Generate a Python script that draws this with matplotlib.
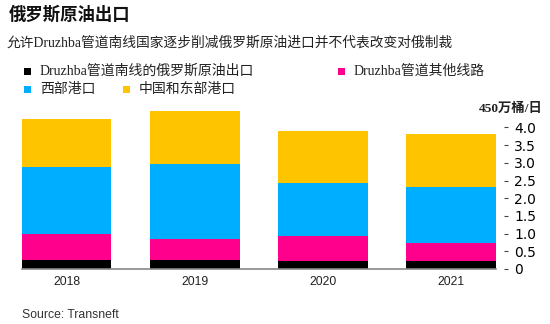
import numpy as np
import matplotlib.pyplot as plt
from matplotlib.patches import Rectangle

# 数据 (单位: 百万桶/日)
years = ["2018", "2019", "2020", "2021"]
druzhba_south = [0.25, 0.25, 0.23, 0.23]
druzhba_other = [0.74, 0.60, 0.69, 0.50]
west_ports = [1.88, 2.11, 1.50, 1.58]
china_east = [1.38, 1.49, 1.49, 1.51]
yticks = [0, 0.5, 1.0, 1.5, 2.0, 2.5, 3.0, 3.5, 4.0]
ytick_labels = ["0", "0.5", "1.0", "1.5", "2.0", "2.5", "3.0", "3.5", "4.0"]

series = [
    ("Druzhba管道南线的俄罗斯原油出口", druzhba_south, "#000000"),
    ("Druzhba管道其他线路", druzhba_other, "#ff008c"),
    ("西部港口", west_ports, "#00aeff"),
    ("中国和东部港口", china_east, "#ffc400"),
]

serif_cjk = ["Liberation Serif", "Noto Sans CJK SC"]
sans = ["Liberation Sans", "DejaVu Sans"]

W, H = 550, 324
fig = plt.figure(figsize=(W / 100, H / 100), dpi=100)
ax = fig.add_axes([21.7 / W, 55 / H, 474.5 / W, 159.3 / H])

x = np.arange(len(years))
bottom = np.zeros(len(years))
for name, vals, color in series:
    ax.bar(x, vals, width=0.7, bottom=bottom, color=color, linewidth=0)
    bottom += np.array(vals)

ax.set_xlim(-0.35, 3.35)
ax.set_ylim(0, 4.5)
ax.set_xticks(x)
ax.set_xticklabels(years, fontsize=8.8, family=sans, color="#222222")
ax.tick_params(axis="x", length=0, pad=5)

ax.yaxis.tick_right()
ax.set_yticks(yticks)
ax.set_yticklabels(ytick_labels, fontsize=7.2, family=sans, color="#222222")
ax.tick_params(axis="y", length=3, width=0.8, color="#444444", pad=4.5)

for s in ["top", "left"]:
    ax.spines[s].set_visible(False)
ax.spines["right"].set_position(("outward", 5.5))
ax.spines["right"].set_color("none")
ax.spines["bottom"].set_color("#888888")
ax.spines["bottom"].set_linewidth(1.2)

# 标题
fig.text(9 / W, 1 - 15 / H, "俄罗斯原油出口", fontsize=12.5, fontweight="bold",
         family=serif_cjk, va="center", ha="left", color="#111111")
fig.text(7 / W, 1 - 43 / H, "允许Druzhba管道南线国家逐步削减俄罗斯原油进口并不代表改变对俄制裁",
         fontsize=9.9, family=serif_cjk, va="center", ha="left", color="#222222")

# 图例
legend_pos = [(24, 71), (338, 71), (24, 89), (123, 89)]
for (name, vals, color), (lx, ly) in zip(series, legend_pos):
    fig.patches.append(Rectangle(((lx) / W, 1 - (ly + 3.5) / H), 7 / W, 7 / H,
                                 transform=fig.transFigure, color=color, linewidth=0))
    fig.text((lx + 16) / W, 1 - ly / H, name, fontsize=10, family=serif_cjk,
             va="center", ha="left", color="#222222")

fig.text(543 / W, 1 - 109 / H, "450万桶/日", fontsize=9.6, fontweight="bold",
         family=serif_cjk, va="center", ha="right", color="#222222")

fig.text(22 / W, 1 - 315 / H, "Source: Transneft", fontsize=8.8, family=sans,
         va="center", ha="left", color="#333333")

fig.savefig("out.png", dpi=100)
